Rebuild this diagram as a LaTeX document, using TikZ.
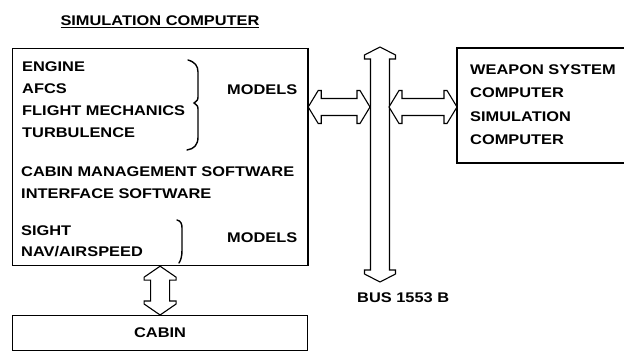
\documentclass[tikz,border=0pt]{standalone}
\usepackage{fontspec}
\setmainfont{Liberation Sans}[FakeStretch=1.17]
\usetikzlibrary{calc}
% vertical fat double arrow: #1 top tip, #2 bottom tip, #3 head half width, #4 shaft half width, #5 head length, #6 barb
\newcommand{\fatV}[6]{%
  \draw[fat] let \p1=(#1), \p2=(#2) in
    (\x1,\y1) -- (\x1+#3,\y1-#5) -- (\x1+#3,\y1-#5-#6) -- (\x1+#4,\y1-#5-#6)
    -- (\x1+#4,\y2+#5+#6) -- (\x1+#3,\y2+#5+#6) -- (\x1+#3,\y2+#5) -- (\x1,\y2)
    -- (\x1-#3,\y2+#5) -- (\x1-#3,\y2+#5+#6) -- (\x1-#4,\y2+#5+#6)
    -- (\x1-#4,\y1-#5-#6) -- (\x1-#3,\y1-#5-#6) -- (\x1-#3,\y1-#5) -- cycle;}
% horizontal fat double arrow: #1 left tip, #2 right tip
\newcommand{\fatH}[6]{%
  \draw[fat] let \p1=(#1), \p2=(#2) in
    (\x1,\y1) -- (\x1+#5,\y1+#3) -- (\x1+#5+#6,\y1+#3) -- (\x1+#5+#6,\y1+#4)
    -- (\x2-#5-#6,\y1+#4) -- (\x2-#5-#6,\y1+#3) -- (\x2-#5,\y1+#3) -- (\x2,\y1)
    -- (\x2-#5,\y1-#3) -- (\x2-#5-#6,\y1-#3) -- (\x2-#5-#6,\y1-#4)
    -- (\x1+#5+#6,\y1-#4) -- (\x1+#5+#6,\y1-#3) -- (\x1+#5,\y1-#3) -- cycle;}
\begin{document}
\begin{tikzpicture}[x=1pt,y=-1pt,
  lbl/.style={anchor=base west,inner sep=0pt,font=\fontsize{14}{16}\selectfont\bfseries},
  box/.style={draw,line width=1.2pt,inner sep=0pt},
  fat/.style={draw,line width=1.1pt,fill=white,line join=miter},
  brace/.style={draw,line width=1.4pt,line cap=round}]
\fill[white] (0,0) rectangle (624,352);
\useasboundingbox (0,0) rectangle (624,352);

% title
\node[lbl,anchor=base] (title) at (160,26) {\underline{SIMULATION COMPUTER}};

% boxes
\node[box,minimum width=295pt,minimum height=217pt,anchor=north west] (sim) at (12,48) {};
\draw[line width=2pt] (sim.north east) -- (sim.south east);
\node[box,minimum width=295pt,minimum height=35pt,anchor=north west,
      font=\fontsize{14}{16}\selectfont\bfseries] (cabin) at (12,315) {CABIN};
\node[inner sep=0pt,outer sep=0pt,minimum width=167pt,minimum height=115pt,anchor=north west] (weapon) at (457,48) {};
\draw[line width=1.2pt] (weapon.north east) -- (weapon.north west) -- (weapon.south west) -- (weapon.south east);

% simulation computer contents
\node[lbl] (engine) at (22,72) {ENGINE};
\node[lbl] (afcs) at (22,94) {AFCS};
\node[lbl] (flight) at (22,116) {FLIGHT MECHANICS};
\node[lbl] (turb) at (22,138) {TURBULENCE};
\node[lbl] (models1) at (227,95) {MODELS};
\node[lbl] (cms) at (21,177) {CABIN MANAGEMENT SOFTWARE};
\node[lbl] (ifs) at (21,199) {INTERFACE SOFTWARE};
\node[lbl] (sight) at (21,236) {SIGHT};
\node[lbl] (nav) at (21,257) {NAV/AIRSPEED};
\node[lbl] (models2) at (227,243) {MODELS};

% braces
\draw[brace] (188,60) .. controls (195,62) and (198,66) .. (198,72) -- (198,95)
  .. controls (198,100) .. (194,103) .. controls (198,106) .. (198,111) -- (198,137)
  .. controls (198,145) and (194,149) .. (187,150);
\draw[brace] (177,220) .. controls (181,221) and (182,224) .. (182,228) -- (182,250)
  .. controls (182,256) and (181,260) .. (179,263);

% weapon system computer contents
\node[lbl] (w1) at (470,75) {WEAPON SYSTEM};
\node[lbl] (w2) at (470,98) {COMPUTER};
\node[lbl] (w3) at (470,122) {SIMULATION};
\node[lbl] (w4) at (470,145) {COMPUTER};

% bus
\coordinate (busT) at (380,47);
\coordinate (busB) at (380,282);
\coordinate (busL) at (370,107);
\coordinate (busR) at (389,107);
\coordinate (yrow) at (0,107);
\fatV{busT}{busB}{15.5pt}{9.5pt}{8pt}{4pt}
\node[lbl] (bus) at (357,303) {BUS 1553 B};

% connectors
\fatH{sim.east |- yrow}{busL}{16.5pt}{8.5pt}{10pt}{3pt}
\fatH{busR}{weapon.west |- yrow}{16.5pt}{8.5pt}{10pt}{3pt}
\fatV{sim.south}{cabin.north}{16pt}{9.5pt}{11pt}{3pt}
\end{tikzpicture}
\end{document}
